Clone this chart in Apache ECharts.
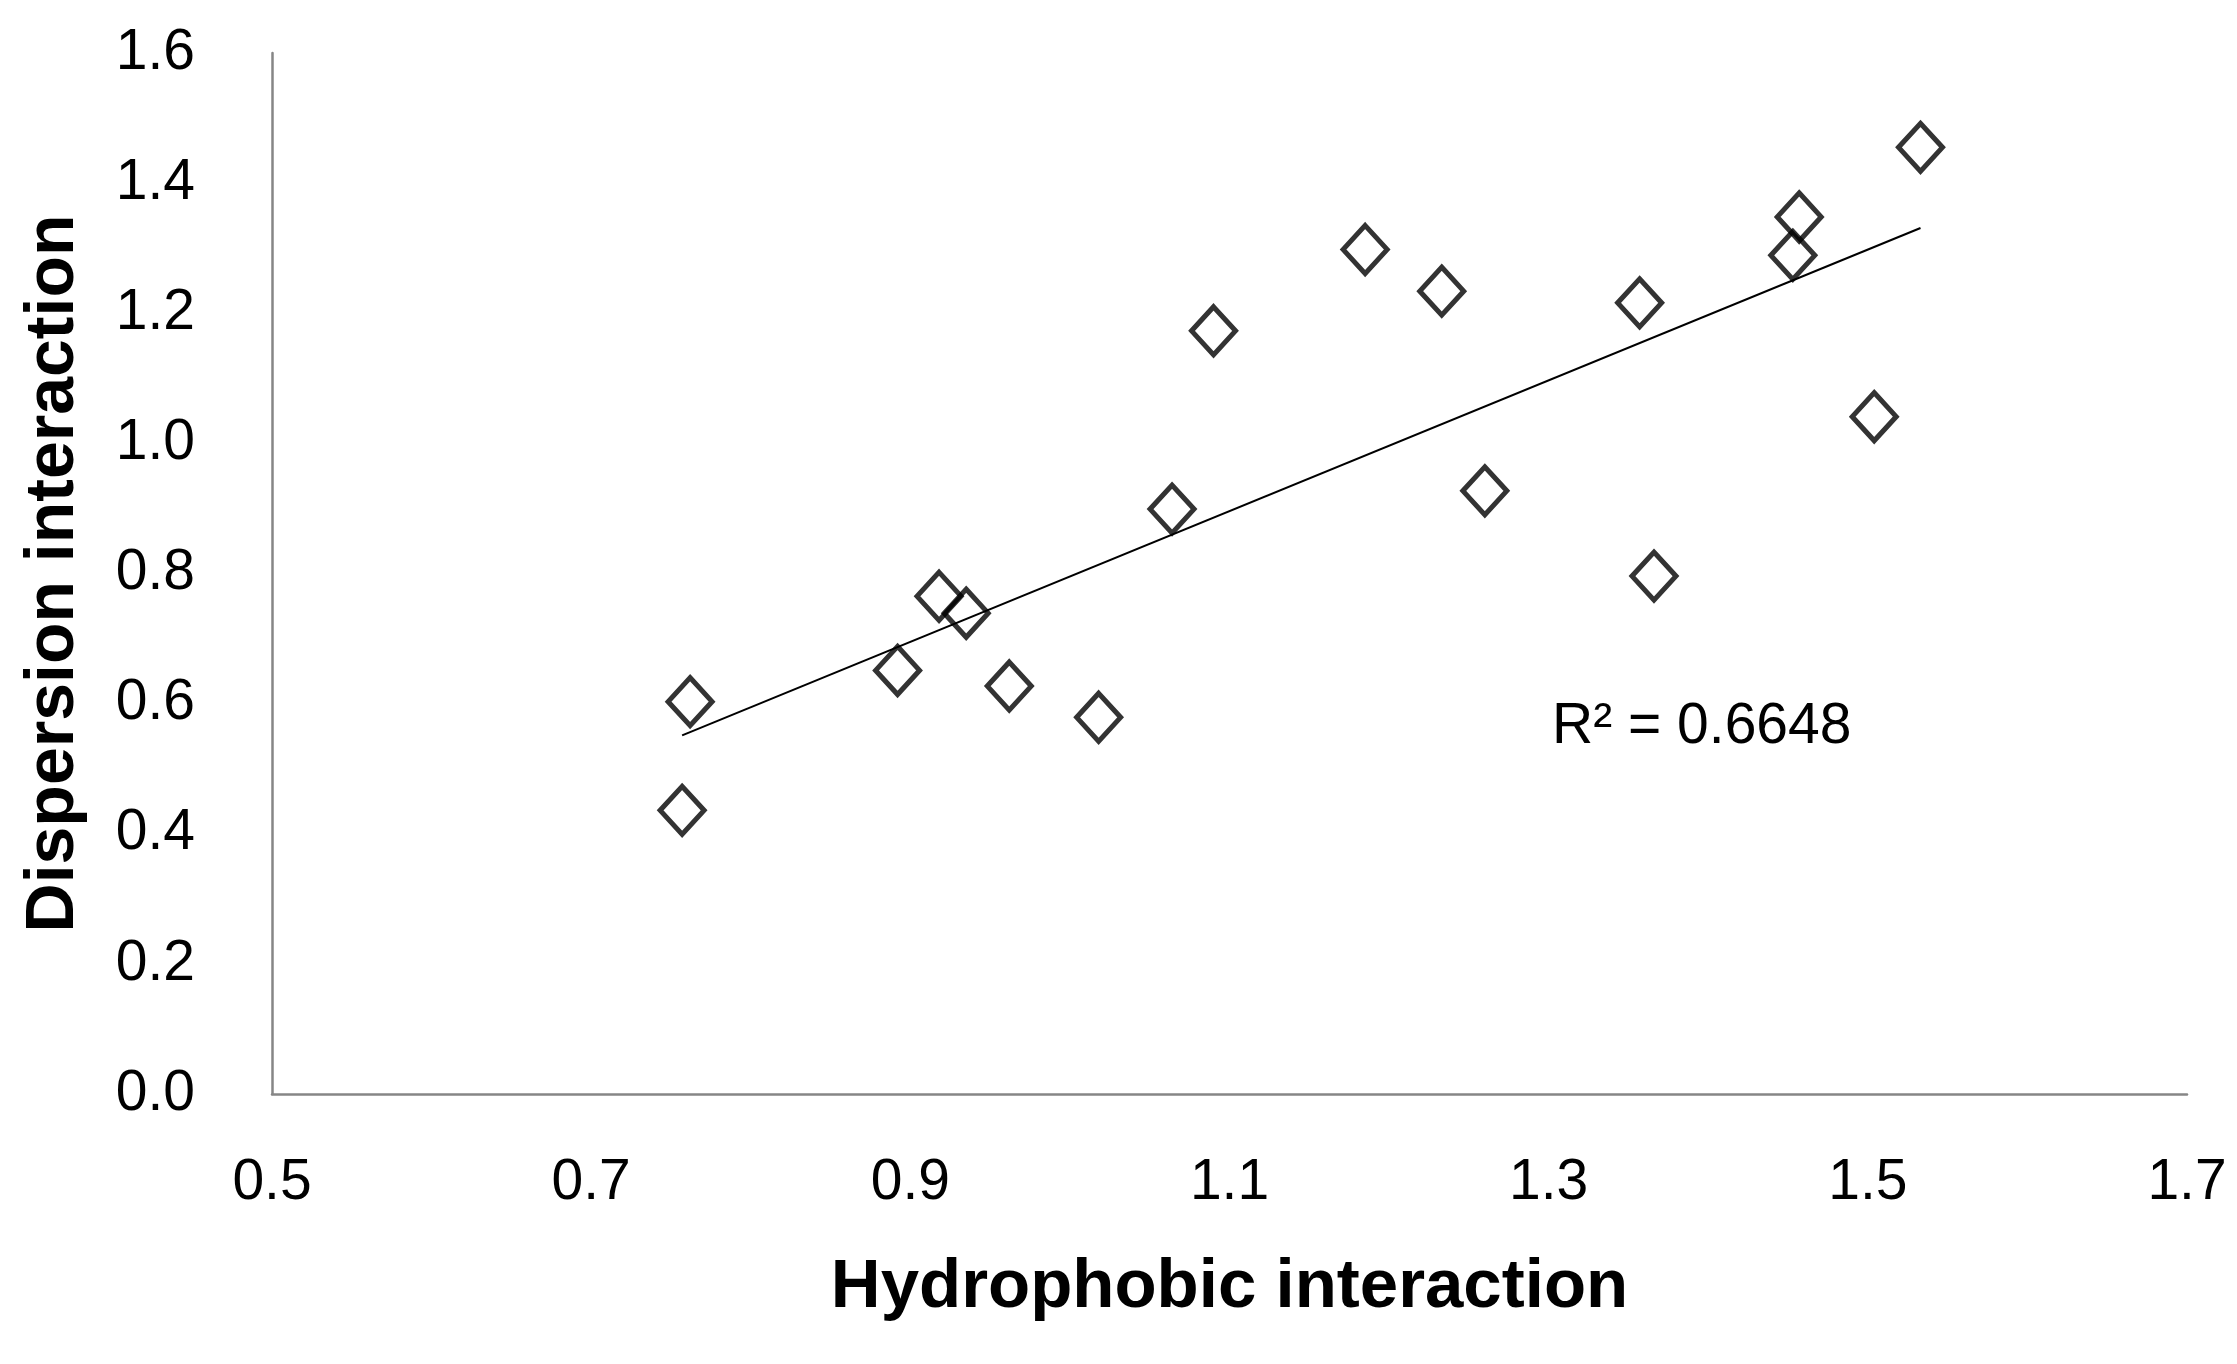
<!DOCTYPE html>
<html>
<head>
<meta charset="utf-8">
<script src="https://cdn.jsdelivr.net/npm/echarts@6/dist/echarts.min.js"></script>
<style>
html,body{margin:0;padding:0;background:#fff;}
#chart{width:2237px;height:1364px;}
</style>
</head>
<body>
<div id="chart"></div>
<script>
// Data
const hydrophobic = [0.762, 0.757, 0.892, 0.918, 0.935, 0.962, 1.018, 1.064, 1.090, 1.185, 1.233, 1.260, 1.357, 1.366, 1.457, 1.453, 1.504, 1.533];
const dispersion  = [0.603, 0.436, 0.651, 0.765, 0.739, 0.627, 0.579, 0.899, 1.173, 1.298, 1.234, 0.927, 1.216, 0.796, 1.348, 1.289, 1.041, 1.455];
const xTitle = 'Hydrophobic interaction';
const yTitle = 'Dispersion interaction';
const r2Label = 'R² = 0.6648';

// Least-squares trendline from the data
const n = hydrophobic.length;
const mx = hydrophobic.reduce((a,b)=>a+b,0)/n;
const my = dispersion.reduce((a,b)=>a+b,0)/n;
let sxy = 0, sxx = 0;
for (let i=0;i<n;i++){ sxy += (hydrophobic[i]-mx)*(dispersion[i]-my); sxx += (hydrophobic[i]-mx)**2; }
const slope = sxy/sxx, intercept = my - slope*mx;
const xMin = Math.min(...hydrophobic), xMax = Math.max(...hydrophobic);
const trend = [[xMin, intercept+slope*xMin],[xMax, intercept+slope*xMax]];

const points = hydrophobic.map((x,i)=>[x, dispersion[i]]);
const FONT = 'Liberation Sans';

const chart = echarts.init(document.getElementById('chart'));
chart.setOption({
  animation: false,
  backgroundColor: '#ffffff',
  grid: {left: 272, right: 50, top: 53, bottom: 270},
  xAxis: {
    type: 'value', min: 0.5, max: 1.7, interval: 0.2,
    name: xTitle, nameLocation: 'middle', nameGap: 194,
    nameTextStyle: {fontFamily: FONT, fontSize: 69, fontWeight: 'bold', color: '#000', verticalAlign: 'middle'},
    axisLine: {show: true, lineStyle: {color: '#868686', width: 2.5}},
    axisTick: {show: false},
    splitLine: {show: false},
    axisLabel: {fontFamily: FONT, fontSize: 57, color: '#000', margin: 61, formatter: v => v.toFixed(1)}
  },
  yAxis: {
    type: 'value', min: 0, max: 1.6, interval: 0.2,
    name: yTitle, nameLocation: 'middle', nameGap: 218,
    nameTextStyle: {fontFamily: FONT, fontSize: 68, fontWeight: 'bold', color: '#000', verticalAlign: 'middle'},
    axisLine: {show: true, lineStyle: {color: '#868686', width: 2.5}},
    axisTick: {show: false},
    splitLine: {show: false},
    axisLabel: {fontFamily: FONT, fontSize: 57, color: '#000', margin: 77, formatter: v => v.toFixed(1)}
  },
  series: [
    {
      type: 'line', data: trend, symbol: 'none', silent: true,
      lineStyle: {color: '#000', width: 2}, z: 1
    },
    {
      type: 'scatter', data: points, symbol: 'diamond', symbolSize: [44, 48],
      itemStyle: {color: 'rgba(0,0,0,0)', borderColor: '#000', borderWidth: 5}, z: 2
    }
  ],
  graphic: [
    {type: 'text', left: 1552, top: 725 - 26,
     style: {text: r2Label, font: '57px "Liberation Sans"', fill: '#000'}}
  ]
});
</script>
</body>
</html>
